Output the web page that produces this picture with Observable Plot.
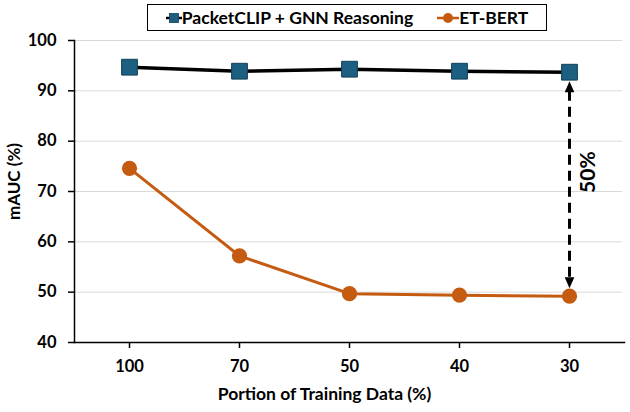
<!DOCTYPE html>
<html>
<head>
<meta charset="utf-8">
<script src="https://cdn.jsdelivr.net/npm/d3@7"></script>
<script src="https://cdn.jsdelivr.net/npm/@observablehq/plot@0.6"></script>
<style>
  html, body { margin: 0; padding: 0; background: #fff; }
  #wrap { position: relative; width: 630px; height: 412px; overflow: hidden; }
  #legend {
    position: absolute; left: 147px; top: 4px; width: 400px; height: 27px;
    box-sizing: border-box; border: 1.5px solid #000; background: #fff;
    display: flex; align-items: center; justify-content: center; gap: 24px;
    font: 700 17.5px Lato, "Open Sans", sans-serif; color: #000; z-index: 2;
  }
  .item { display: flex; align-items: center; gap: 0px; white-space: nowrap; }
</style>
</head>
<body>
<div id="wrap"><div id="legend"></div></div>
<script>
// ---- data ----
const categories = ["100", "70", "50", "40", "30"];
const seriesNames = ["PacketCLIP + GNN Reasoning", "ET-BERT"];
const packetclip = [94.7, 93.9, 94.3, 93.9, 93.7];
const etbert = [74.6, 57.2, 49.7, 49.4, 49.2];
const yTicks = [40, 50, 60, 70, 80, 90, 100];
const gapLabel = "50%";
const xTitle = "Portion of Training Data (%)";
const yTitle = "mAUC (%)";

const BLUE = "#1C5F80";
const ORANGE = "#C55A11";

const rowsA = categories.map((c, i) => ({cat: c, value: packetclip[i]}));
const rowsB = categories.map((c, i) => ({cat: c, value: etbert[i]}));
const last = categories.length - 1;
const gap = [{cat: categories[last], top: packetclip[last], bottom: etbert[last], mid: (packetclip[last] + etbert[last]) / 2}];

const arrowUp = {draw(ctx) { ctx.moveTo(0, 0); ctx.lineTo(4.8, 11); ctx.lineTo(-4.8, 11); ctx.closePath(); }};
const arrowDown = {draw(ctx) { ctx.moveTo(0, 0); ctx.lineTo(4.8, -11); ctx.lineTo(-4.8, -11); ctx.closePath(); }};

const chart = Plot.plot({
  width: 630, height: 412,
  marginTop: 40, marginBottom: 70, marginLeft: 74, marginRight: 6,
  style: {fontFamily: "Lato, 'Open Sans', sans-serif", fontSize: "16.5px", fontWeight: 700, color: "#000", background: "transparent"},
  x: {type: "point", domain: categories, padding: 0.5, label: null},
  y: {domain: [40, 100], label: null},
  marks: [
    Plot.gridY(yTicks.filter(t => t > 40), {stroke: "#d9d9d9", strokeOpacity: 1, strokeWidth: 1, insetRight: 2}),
    Plot.axisY(yTicks, {tickSize: 6, tickPadding: 12, strokeWidth: 1.5, fontWeight: 700, fontSize: 16.5, label: null}),
    Plot.axisX({tickSize: 6, tickPadding: 12, strokeWidth: 1.5, fontWeight: 700, fontSize: 16.5, label: null}),
    Plot.frame({anchor: "left", strokeWidth: 1.5}),
    Plot.frame({anchor: "bottom", strokeWidth: 1.5}),
    Plot.lineY(rowsA, {x: "cat", y: "value", stroke: "#000", strokeWidth: 3.5}),
    Plot.lineY(rowsB, {x: "cat", y: "value", stroke: ORANGE, strokeWidth: 3}),
    Plot.ruleX(gap, {x: "cat", y1: "top", y2: "bottom", stroke: "#000", strokeWidth: 3, strokeDasharray: "10,6", insetTop: 19, insetBottom: 18}),
    Plot.dot(gap, {x: "cat", y: "top", symbol: arrowUp, fill: "#000", stroke: "none", dy: 9}),
    Plot.dot(gap, {x: "cat", y: "bottom", symbol: arrowDown, fill: "#000", stroke: "none", dy: -8}),
    Plot.dot(rowsA, {x: "cat", y: "value", symbol: "square", r: 8.9, fill: BLUE, stroke: "#123f57", strokeWidth: 1}),
    Plot.dot(rowsB, {x: "cat", y: "value", symbol: "circle", r: 7.6, fill: ORANGE, stroke: "none"}),
    Plot.text(gap, {x: "cat", y: "mid", text: () => gapLabel, rotate: -90, dx: 19, dy: -12, fontSize: 21, fontWeight: 700, textAnchor: "middle", lineAnchor: "middle"}),
    Plot.text([yTitle], {text: d => d, frameAnchor: "left", rotate: -90, dx: -60, dy: -10, fontSize: 17, fontWeight: 700, textAnchor: "middle", lineAnchor: "middle"}),
    Plot.text([xTitle], {text: d => d, frameAnchor: "bottom", dx: -25, dy: 52, fontSize: 17.5, fontWeight: 700, textAnchor: "middle", lineAnchor: "middle"})
  ]
});
document.getElementById("wrap").appendChild(chart);

// legend
const legend = document.getElementById("legend");
const swatches = [
  `<svg width="16" height="12"><line x1="0" y1="6" x2="16" y2="6" stroke="#000" stroke-width="2.5"/><rect x="3.5" y="1.5" width="9" height="9" fill="${BLUE}" stroke="#123f57" stroke-width="0.8"/></svg>`,
  `<svg width="22" height="12"><line x1="0" y1="6" x2="22" y2="6" stroke="${ORANGE}" stroke-width="2.5"/><circle cx="11" cy="6" r="5" fill="${ORANGE}"/></svg>`
];
seriesNames.forEach((name, i) => {
  const it = document.createElement("div");
  it.className = "item";
  it.innerHTML = swatches[i] + `<span>${name}</span>`;
  legend.appendChild(it);
});
</script>
</body>
</html>
